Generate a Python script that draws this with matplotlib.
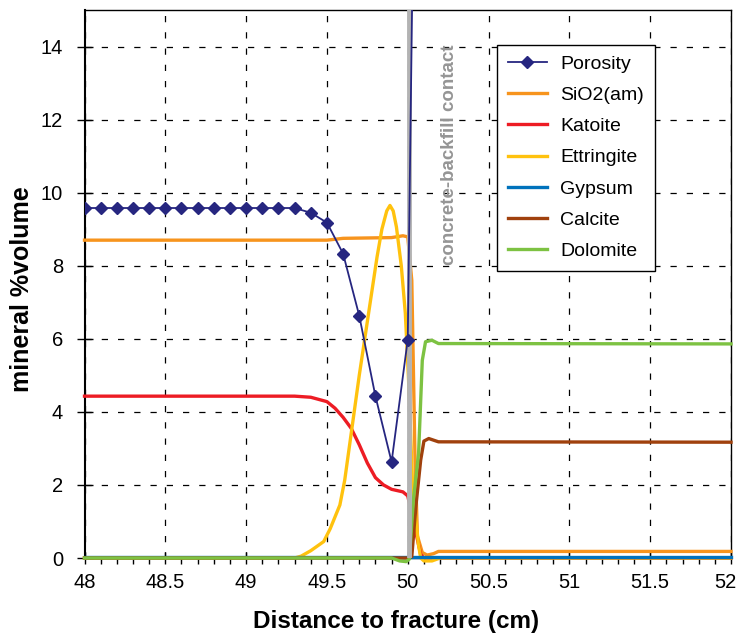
import numpy as np
import matplotlib
matplotlib.use("Agg")
import matplotlib.pyplot as plt
import matplotlib.transforms as mtransforms
from matplotlib.ticker import MultipleLocator

plt.rcParams['font.family'] = ['Liberation Sans', 'DejaVu Sans']

# porosity (puntos cada 0.1 cm)
x_por = [48.0, 48.1, 48.2, 48.3, 48.4, 48.5, 48.6, 48.7, 48.8, 48.9, 49.0, 49.1,
         49.2, 49.3, 49.4, 49.5, 49.6, 49.7, 49.8, 49.9, 50.0, 50.1]
y_por = [9.58, 9.58, 9.58, 9.58, 9.58, 9.58, 9.58, 9.58, 9.58, 9.58, 9.58, 9.58,
         9.58, 9.58, 9.45, 9.18, 8.33, 6.63, 4.43, 2.63, 5.98, 40.0]

x_sio2 = [48.0, 49.5, 49.6, 49.9, 49.97, 50.0, 50.025, 50.045, 50.06, 50.09, 50.12, 50.16, 50.19, 52.0]
y_sio2 = [8.70, 8.70, 8.75, 8.77, 8.82, 8.79, 7.6, 2.7, 0.6, 0.15, 0.08, 0.12, 0.18, 0.18]

x_kat = [48.0, 49.3, 49.4, 49.5, 49.55, 49.6, 49.65, 49.7, 49.75, 49.8, 49.85, 49.9,
         49.97, 50.0, 50.03, 50.06, 50.08, 50.1, 52.0]
y_kat = [4.43, 4.43, 4.40, 4.28, 4.10, 3.85, 3.55, 3.10, 2.60, 2.20, 2.00, 1.88,
         1.81, 1.70, 1.10, 0.50, 0.10, 0.0, 0.0]

x_ett = [48.0, 49.3, 49.34, 49.4, 49.48, 49.52, 49.58, 49.61, 49.7, 49.81, 49.84, 49.87,
         49.89, 49.91, 49.93, 49.96, 49.985, 50.005, 50.03, 50.065, 50.08, 50.1, 50.15, 50.2, 52.0]
y_ett = [0.0, 0.0, 0.05, 0.2, 0.45, 0.8, 1.45, 2.13, 5.0, 8.24, 9.0, 9.5,
         9.65, 9.5, 9.06, 8.0, 6.7, 4.87, 2.0, 0.4, 0.0, -0.08, -0.08, 0.0, 0.0]

x_gyp = [48.0, 52.0]
y_gyp = [0.02, 0.02]

x_cal = [48.0, 50.0, 50.025, 50.05, 50.08, 50.1, 50.13, 50.19, 52.0]
y_cal = [0.0, 0.0, 0.04, 1.4, 2.68, 3.2, 3.27, 3.18, 3.17]

x_dol = [48.0, 49.9, 49.95, 49.99, 50.01, 50.035, 50.067, 50.09, 50.11, 50.15, 50.19, 52.0]
y_dol = [0.0, 0.0, -0.08, -0.1, -0.03, 1.6, 2.86, 5.41, 5.92, 5.96, 5.87, 5.86]

contacto = 50.01

fig = plt.figure(figsize=(7.39, 6.37), dpi=100)
ax = fig.add_axes([84.5/739, 1 - 558/637, (731 - 84.5)/739, (558 - 10)/637])

ax.plot(x_por, y_por, color='#262680', lw=1.3, marker='D', ms=6.5, label='Porosity', zorder=6)
minerales = [
    (x_sio2, y_sio2, '#f7941d', 'SiO2(am)'),
    (x_kat, y_kat, '#ed1c24', 'Katoite'),
    (x_ett, y_ett, '#ffc20e', 'Ettringite'),
    (x_gyp, y_gyp, '#0072bc', 'Gypsum'),
    (x_cal, y_cal, '#a0410d', 'Calcite'),
    (x_dol, y_dol, '#7dc242', 'Dolomite'),
]
for xs, ys, c, nom in minerales:
    ax.plot(xs, ys, color=c, lw=2.4, label=nom, zorder=3, clip_on=False)

# linea de contacto
ax.axvline(contacto, color='#b3b3b3', lw=3.5, zorder=5)
ax.text(50.26, 14.05, 'concrete-backfill contact', rotation=90, ha='center', va='top',
        color='#959595', fontsize=13.5, fontweight='bold')

ax.set_xlim(48, 52)
ax.set_ylim(0, 15)
ax.xaxis.set_minor_locator(MultipleLocator(0.1))
ax.set_yticks(np.arange(0, 15, 2))
ax.set_xticks(np.arange(48, 52.01, 0.5))
ax.set_xticklabels(['48', '48.5', '49', '49.5', '50', '50.5', '51', '51.5', '52'])

ax.grid(True, which='major', color='black', ls=(0, (5, 8)), lw=0.9)
ax.set_axisbelow(True)

ax.tick_params(axis='x', which='major', direction='inout', length=9, width=1, labelsize=14.5, pad=6)
ax.tick_params(axis='x', which='minor', direction='out', length=4, width=1)
ax.tick_params(axis='y', which='major', direction='inout', length=11, width=1, labelsize=14.5, pad=10)

# el ultimo rotulo "52" se mueve un poco a la izquierda para que no se corte
ult = ax.get_xticklabels()[-1]
ult.set_transform(ult.get_transform() + mtransforms.ScaledTranslation(-6/100, 0, fig.dpi_scale_trans))

for s in ['top', 'right']:
    ax.spines[s].set_linewidth(1.0)
ax.spines['left'].set_linewidth(1.5)
ax.spines['bottom'].set_linewidth(1.0)

ax.set_xlabel('Distance to fracture (cm)', fontsize=17.5, fontweight='bold')
ax.xaxis.set_label_coords(0.482, -0.095)
ax.set_ylabel('mineral %volume', fontsize=18, fontweight='bold')
ax.yaxis.set_label_coords(-0.078, 0.49)

leg = ax.legend(loc='upper left', bbox_to_anchor=(0.638, 0.937), fontsize=14,
                frameon=True, fancybox=False, edgecolor='black', framealpha=1,
                handlelength=2.0, handletextpad=0.7, labelspacing=0.7,
                borderpad=0.55, borderaxespad=0)
leg.get_frame().set_linewidth(1.0)
leg.set_zorder(10)

plt.savefig('out.png', dpi=100)
plt.close()
